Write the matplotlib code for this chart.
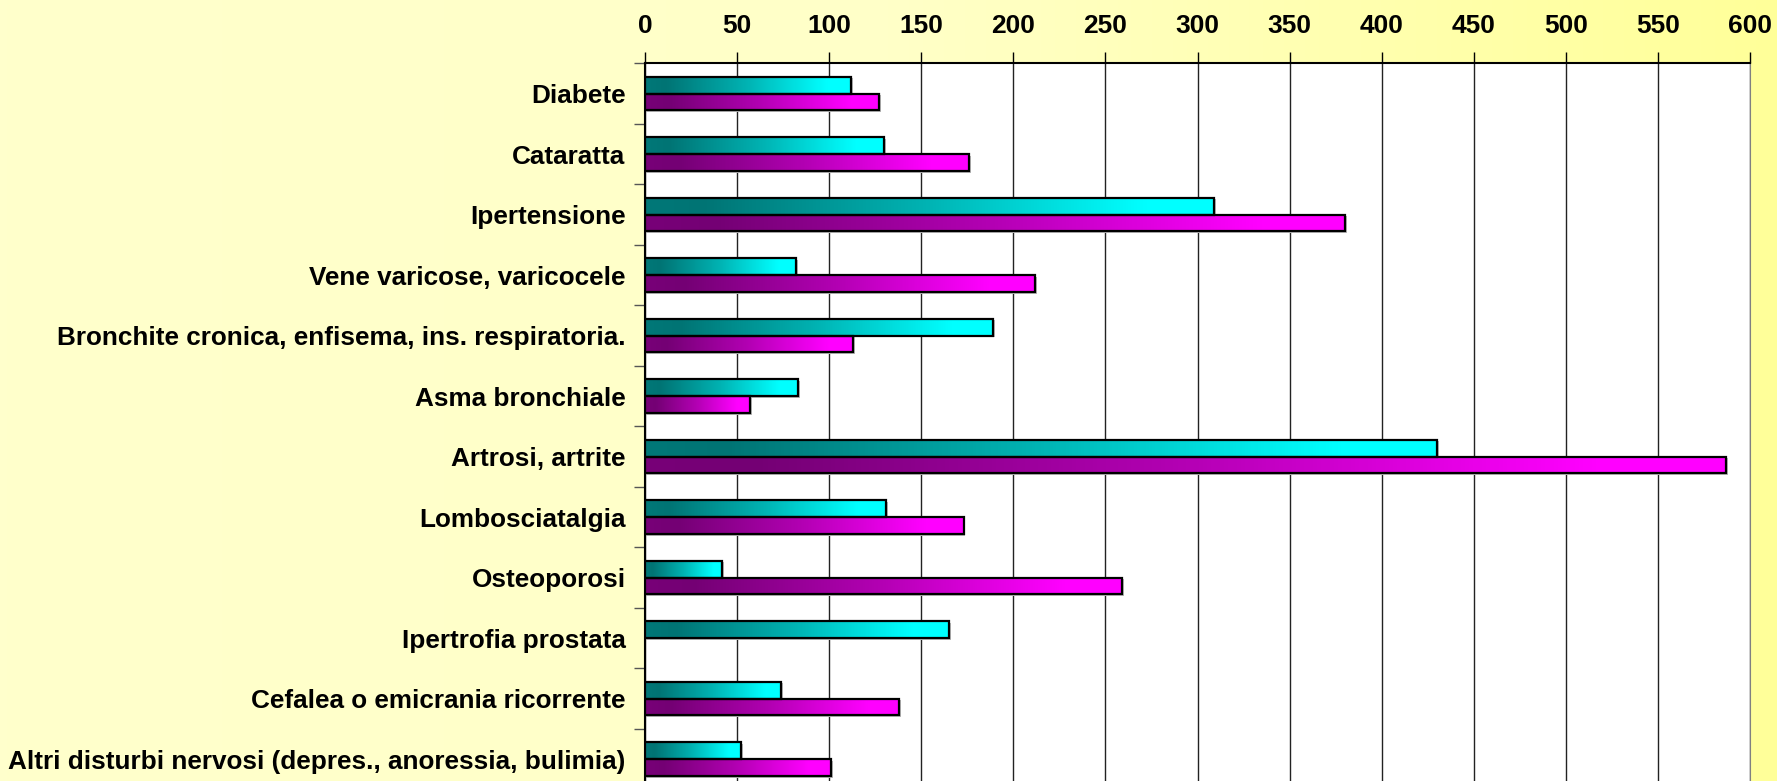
import numpy as np
import matplotlib
matplotlib.use("Agg")
import matplotlib.pyplot as plt
from matplotlib.colors import LinearSegmentedColormap

# dati
categorie = ["Diabete", "Cataratta", "Ipertensione", "Vene varicose, varicocele",
             "Bronchite cronica, enfisema, ins. respiratoria.", "Asma bronchiale",
             "Artrosi, artrite", "Lombosciatalgia", "Osteoporosi", "Ipertrofia prostata",
             "Cefalea o emicrania ricorrente",
             "Altri disturbi nervosi (depres., anoressia, bulimia)"]
serie_ciano = [112, 130, 309, 82, 189, 83, 430, 131, 42, 165, 74, 52]
serie_magenta = [127, 176, 380, 212, 113, 57, 587, 173, 259, 0, 138, 101]
tick_x = [0, 50, 100, 150, 200, 250, 300, 350, 400, 450, 500, 550, 600]

plt.rcParams['font.family'] = ['Liberation Sans', 'DejaVu Sans']

fig = plt.figure(figsize=(17.77, 7.81), dpi=100)

# sfondo giallo sfumato
bg = fig.add_axes([0, 0, 1, 1], zorder=-10)
grad = np.linspace(0, 1, 256).reshape(1, -1)
cmap_bg = LinearSegmentedColormap.from_list("bg", ["#FFFFCC", "#FFFFC8", "#FFFF99"])
bg.imshow(grad, aspect="auto", cmap=cmap_bg, extent=(0, 1, 0, 1))
bg.set_axis_off()

ax = fig.add_axes([645 / 1777, -0.0106, 1105 / 1777, 0.9296])
ax.set_facecolor("white")

cmap_c = LinearSegmentedColormap.from_list(
    "c", [(0, "#007878"), (0.1, "#007474"), (0.5, "#00b4b4"), (0.88, "#00ffff"), (1, "#00ffff")])
cmap_m = LinearSegmentedColormap.from_list(
    "m", [(0, "#780078"), (0.1, "#740074"), (0.5, "#b400b4"), (0.88, "#ff00ff"), (1, "#ff00ff")])

h = 0.28
y = np.arange(len(categorie))
for i in range(len(categorie)):
    for v, y0, cm in [(serie_ciano[i], y[i] - h, cmap_c), (serie_magenta[i], y[i], cmap_m)]:
        if v <= 0:
            continue
        # ombra
        ax.barh(y0 + h / 2 + 0.03, v + 1.0, height=h, left=0, color="#b8b8b8", zorder=2)
        ax.imshow(grad, aspect="auto", cmap=cm, extent=(0, v, y0 + h, y0), zorder=3)
        ax.barh(y0 + h / 2, v, height=h, left=0, fill=False, edgecolor="black", linewidth=1.6, zorder=4)

ax.set_xlim(0, 600)
ax.set_ylim(len(categorie) - 0.5, -0.5)

ax.xaxis.tick_top()
ax.set_xticks(tick_x)
ax.set_xticklabels([str(t) for t in tick_x], fontsize=19, fontweight="bold")
ax.tick_params(axis="x", length=8, width=1, pad=10, color="black")
ax.grid(axis="x", color="#222222", linewidth=1, zorder=1)
ax.set_axisbelow(True)

ax.set_yticks(y)
ax.set_yticklabels(categorie, fontsize=18.8, fontweight="bold")
ax.set_yticks(np.arange(-0.5, len(categorie), 1), minor=True)
ax.tick_params(axis="y", which="major", length=0, pad=14)
ax.tick_params(axis="y", which="minor", length=8, width=1, color="#555555")

ax.spines["top"].set_color("black")
ax.spines["top"].set_linewidth(1.5)
ax.spines["left"].set_color("black")
ax.spines["left"].set_linewidth(1.5)
ax.spines["right"].set_color("#808080")
ax.spines["bottom"].set_visible(False)

fig.savefig("out.png", dpi=100)
